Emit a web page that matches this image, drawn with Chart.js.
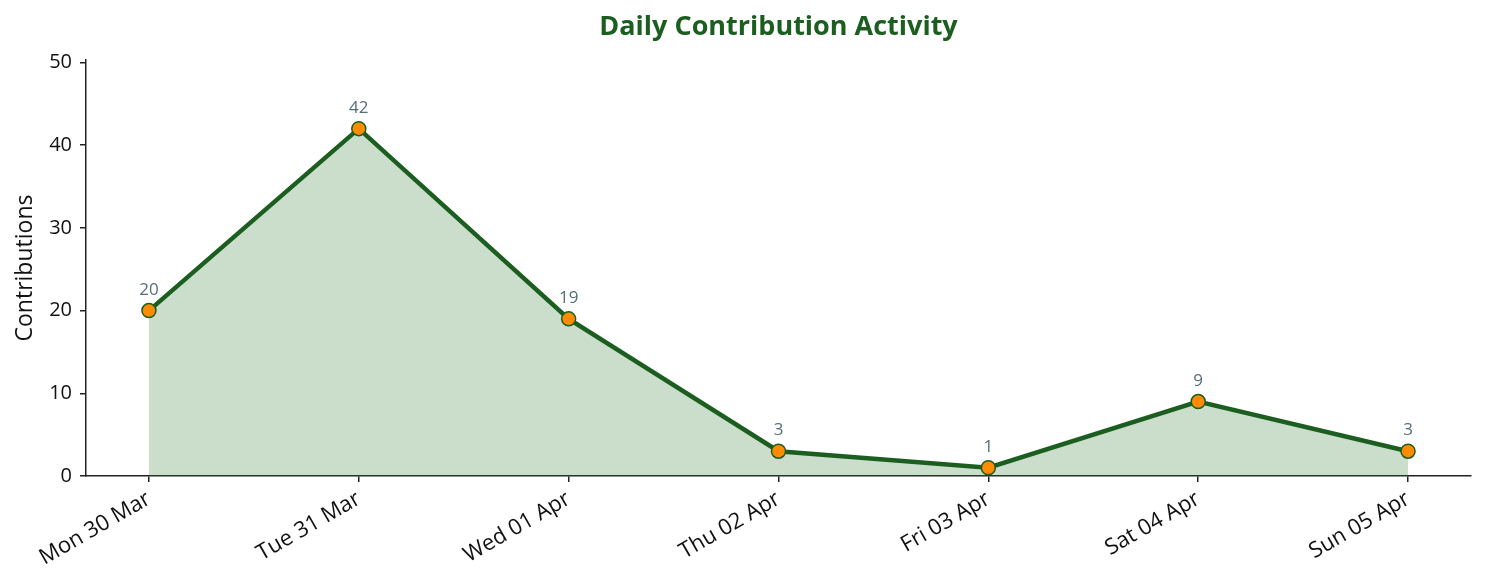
<!DOCTYPE html>
<html>
<head>
<meta charset="utf-8">
<script src="https://cdn.jsdelivr.net/npm/chart.js@4.4.1/dist/chart.umd.min.js"></script>
<style>
html,body{margin:0;padding:0;background:#fff;}
#wrap{width:1486px;height:583px;position:relative;}
</style>
</head>
<body>
<div id="wrap"><canvas id="c"></canvas></div>
<script>
const categories = ["Mon 30 Mar","Tue 31 Mar","Wed 01 Apr","Thu 02 Apr","Fri 03 Apr","Sat 04 Apr","Sun 05 Apr"];
const contributions = [20, 42, 19, 3, 1, 9, 3];
const yTicks = [0, 10, 20, 30, 40, 50];

const FONT = "'Open Sans', 'Noto Sans', sans-serif";
const points = contributions.map((v, i) => ({x: i, y: v}));

const valueLabels = {
  id: 'valueLabels',
  afterDatasetsDraw(chart) {
    const ctx = chart.ctx;
    const meta = chart.getDatasetMeta(0);
    ctx.save();
    ctx.font = "17px " + FONT;
    ctx.fillStyle = '#546e7a';
    ctx.textAlign = 'center';
    ctx.textBaseline = 'alphabetic';
    meta.data.forEach((pt, i) => {
      ctx.fillText(String(contributions[i]), pt.x, pt.y - 16);
    });
    ctx.restore();
  }
};

new Chart(document.getElementById('c'), {
  type: 'line',
  data: {
    datasets: [{
      data: points,
      borderColor: '#1b5e20',
      borderWidth: 4.5,
      backgroundColor: 'rgba(46,125,50,0.25)',
      fill: 'origin',
      tension: 0,
      pointRadius: 7,
      pointHoverRadius: 7,
      pointBackgroundColor: '#ff8c00',
      pointBorderColor: '#1b5e20',
      pointBorderWidth: 1.5
    }]
  },
  options: {
    responsive: true,
    maintainAspectRatio: false,
    animation: false,
    devicePixelRatio: 1,
    layout: { padding: { left: 0, right: 15, top: 0, bottom: 0 } },
    plugins: {
      legend: { display: false },
      tooltip: { enabled: false },
      title: {
        display: true,
        fullSize: false,
        text: 'Daily Contribution Activity',
        color: '#1b5e20',
        font: { family: FONT, size: 27, weight: 'bold' },
        padding: { top: 11, bottom: 16.6 }
      }
    },
    scales: {
      x: {
        type: 'linear',
        min: -0.3,
        max: 6.3,
        afterBuildTicks(scale) {
          scale.ticks = categories.map((c, i) => ({ value: i }));
        },
        afterFit(scale) { scale.height = 107; },
        ticks: {
          autoSkip: false,
          minRotation: 30,
          maxRotation: 30,
          padding: 4,
          color: '#111',
          font: { family: FONT, size: 22 },
          callback: (v) => categories[v]
        },
        grid: { display: true, drawOnChartArea: false, drawTicks: true, tickLength: 6, color: '#222', lineWidth: 1.5 },
        border: { display: true, color: '#222', width: 1.5 }
      },
      y: {
        type: 'linear',
        min: 0,
        max: 50.3,
        afterBuildTicks(scale) {
          scale.ticks = yTicks.map(v => ({ value: v }));
        },
        afterFit(scale) { scale.width = 86; },
        ticks: {
          padding: 8,
          color: '#111',
          font: { family: FONT, size: 20 }
        },
        title: {
          display: true,
          text: 'Contributions',
          color: '#111',
          font: { family: FONT, size: 23 },
          padding: { top: 12, bottom: 0 }
        },
        grid: { display: true, drawOnChartArea: false, drawTicks: true, tickLength: 6, color: '#222', lineWidth: 1.5 },
        border: { display: true, color: '#222', width: 1.5 }
      }
    }
  },
  plugins: [valueLabels]
});
</script>
</body>
</html>
